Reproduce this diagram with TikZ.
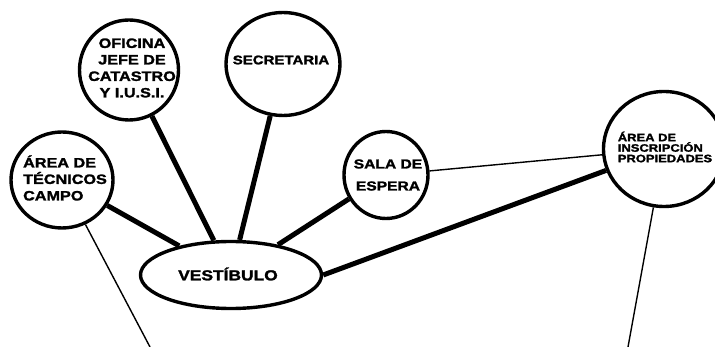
\documentclass[tikz,border=0pt]{standalone}
\usepackage{fontspec}
\usepackage{tikz}
\usetikzlibrary{shapes.geometric}
\newfontfamily\roomfont{Liberation Sans}[BoldFont=* Bold,
  BoldFeatures={FakeBold=1.8}, FakeStretch=1.2]
\tikzset{
  room/.style={ellipse, draw=black, fill=white, line width=3.4pt,
               inner sep=0pt},
  roomtext/.style={font=\roomfont\bfseries\fontsize{13.5}{16.5}\selectfont,
                   inner sep=0pt},
  mainlink/.style={draw=black, line width=5pt},
  sidelink/.style={draw=black, line width=1.4pt}
}

\begin{document}
\begin{tikzpicture}[x=1pt,y=-1pt]
  \useasboundingbox (0,0) rectangle (715,347);

  % Rooms round the hall.
  \node[room, minimum width=102pt, minimum height=96pt] (tec) at (62,180) {};
  \node[room, minimum width=99pt, minimum height=100pt] (ofi) at (129,70) {};
  \node[room, minimum width=114pt, minimum height=103pt] (sec) at (283,64) {};
  \node[room, minimum width=84pt, minimum height=87pt] (sala) at (386,175) {};
  \node[room, minimum width=121pt, minimum height=115pt] (ins) at (664,149) {};
  \node[room, minimum width=181pt, minimum height=67pt] (vest) at (231,275) {};

  \node[roomtext, align=left] (tecText) at (65,178)
    {ÁREA DE\\TÉCNICOS\\CAMPO};
  \node[roomtext, align=center] (ofiText) at (132,68)
    {OFICINA\\JEFE DE\\CATASTRO\\Y I.U.S.I.};
  \node[roomtext, font=\roomfont\bfseries\fontsize{12.5}{14}\selectfont]
    (secText) at (281,60) {SECRETARIA};
  \node[roomtext, align=center, font=\roomfont\bfseries\fontsize{13}{22}\selectfont]
    (salaText) at (388,175) {SALA DE\\ESPERA};
  \node[roomtext, align=left, font=\roomfont\bfseries\fontsize{10.8}{10.5}\selectfont]
    (insText) at (665,147) {ÁREA DE\\INSCRIPCIÓN\\PROPIEDADES};
  \node[roomtext, font=\roomfont\bfseries\fontsize{14.5}{16}\selectfont]
    (vestText) at (228,274) {VESTÍBULO};

  % -------------------------------------------------------------------------
  % Hall links (thick) and the other passages (thin).
  \draw[mainlink] (vest) -- (tec);
  \draw[mainlink] (vest) -- (ofi);
  \draw[mainlink] (vest) -- (sec);
  \draw[mainlink] (vest) -- (sala);
  \draw[mainlink] (vest.east) -- (ins);

  \coordinate (tecOut) at (150,347);
  \coordinate (insOut) at (628,347);
  \draw[sidelink] (sala) -- (ins);
  \draw[sidelink] (tec) -- (tecOut);
  \draw[sidelink] (ins) -- (insOut);
\end{tikzpicture}
\end{document}
